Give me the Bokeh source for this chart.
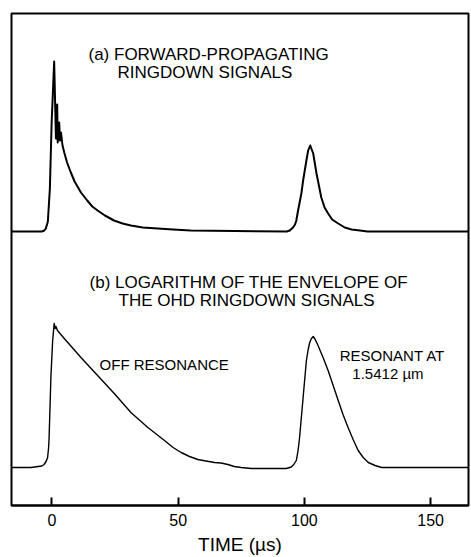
from bokeh.plotting import figure
from bokeh.models import Range1d, FixedTicker, ColumnDataSource
from bokeh.core.properties import value
from bokeh.embed import file_html
from bokeh.resources import INLINE

# ---- data ----
x_ticks = [0, 50, 100, 150]

# (a) forward-propagating ringdown signal
t_a = [-16, -4, -3.0, -2.4, -1.6, -0.8, -0.1, 0.9, 1.6, 2.1, 2.3, 2.9, 3.2, 3.6, 4.2, 4.9,
       6.0, 7.5, 9.0, 11.5, 14.0, 16.0, 18.1, 21.0, 24.6, 28.0, 31.3, 36.0, 41.9, 48.0, 55.0,
       93.0, 94.2, 95.5, 96.3, 96.8, 97.5, 98.8, 99.5, 100.8, 101.5, 102.3, 103.5,
       104.8, 106.7, 108.0, 109.4, 111.0, 113.4, 116.0, 118.7, 122.0, 125.0, 165]
sig_a = [274, 274, 275, 277, 284, 317, 383, 444, 367, 401, 363, 383, 365, 373, 360, 353,
         343, 333, 324, 313, 305, 299, 295, 290, 285, 282, 280, 278, 277, 276, 275,
         274, 275, 278, 281, 285, 295, 312, 325, 345, 355, 360, 352,
         332, 308, 298, 292, 286, 282, 278, 276, 275, 274, 274]

# (b) logarithm of the envelope of the OHD ringdown signals
t_b = [-16, -8.3, -4.0, -3.1, -2.3, -1.7, -1.3, -1.1, -0.4, 0.3, 0.9, 1.3, 1.6, 2.2,
       4.9, 11.5, 18.1, 24.7, 31.3, 38.0, 44.6, 48.0, 51.2, 54.5, 57.8, 61.0, 64.4,
       67.0, 69.7, 72.2, 75.0, 79.0, 92.9, 94.8, 95.8, 96.8, 97.5, 98.1, 98.8, 99.5,
       100.2, 100.8, 101.5, 102.1, 102.8, 103.5, 104.3, 105.4, 107.4, 109.4, 111.4,
       113.4, 115.3, 117.3, 119.3, 121.3, 123.3, 125.3, 128.0, 130.6, 165]
sig_b = [38, 38, 39.5, 41, 44, 48, 58, 68, 128, 165, 182, 177, 179, 175,
         167, 148, 130, 112, 93, 78, 65, 58, 53, 49, 46, 44.5, 43,
         42.5, 41, 39, 38, 37, 37, 38.5, 41, 45, 55, 68, 88, 108,
         128, 145, 156, 163, 167, 169, 166, 160, 148, 135, 120,
         105, 91, 78, 66, 55, 48, 43, 40, 38, 38]

FONT = "Liberation Sans"

p = figure(width=471, height=557, output_backend="svg", toolbar_location=None,
           x_range=Range1d(-16, 165), y_range=Range1d(0, 492),
           min_border_left=11, min_border_right=3, min_border_top=13,
           min_border_bottom=52, y_axis_location=None)

p.background_fill_color = "white"
p.border_fill_color = "white"
p.outline_line_color = "black"
p.outline_line_width = 2
p.grid.visible = False

ax = p.xaxis[0]
ax.ticker = FixedTicker(ticks=x_ticks)
ax.major_tick_in = 8
ax.major_tick_out = 0
ax.minor_tick_line_color = None
ax.major_tick_line_width = 2
ax.axis_line_width = 2
ax.major_label_standoff = 8
ax.major_label_text_font = FONT
ax.major_label_text_font_size = "16px"
ax.major_label_text_color = "black"
ax.axis_label = "TIME (µs)"
ax.axis_label_text_font = FONT
ax.axis_label_text_font_size = "19px"
ax.axis_label_text_font_style = "normal"
ax.axis_label_text_color = "black"
ax.axis_label_standoff = 5

p.line(t_a, sig_a, line_color="black", line_width=2, line_join="round")
p.line(t_b, sig_b, line_color="black", line_width=1.4, line_join="round")

labels = ColumnDataSource(dict(
    x=[14.5, 26.0, 14.9, 26.4],
    y=[451.5, 433.5, 223.5, 205],
    text=["(a) FORWARD-PROPAGATING", "RINGDOWN SIGNALS",
          "(b) LOGARITHM OF THE ENVELOPE OF", "THE OHD RINGDOWN SIGNALS"],
))
p.text(x="x", y="y", text="text", source=labels, text_font=value(FONT),
       text_font_size="17px", text_align="left", text_baseline="middle",
       text_color="black")

notes = ColumnDataSource(dict(
    x=[18.9, 134.9, 133.1],
    y=[141, 150, 132],
    text=["OFF RESONANCE", "RESONANT AT", "1.5412 µm"],
    align=["left", "center", "center"],
))
p.text(x="x", y="y", text="text", source=notes, text_font=value(FONT),
       text_font_size="15px", text_align="align", text_baseline="middle",
       text_color="black")

open("out.html", "w").write(file_html(p, INLINE))
